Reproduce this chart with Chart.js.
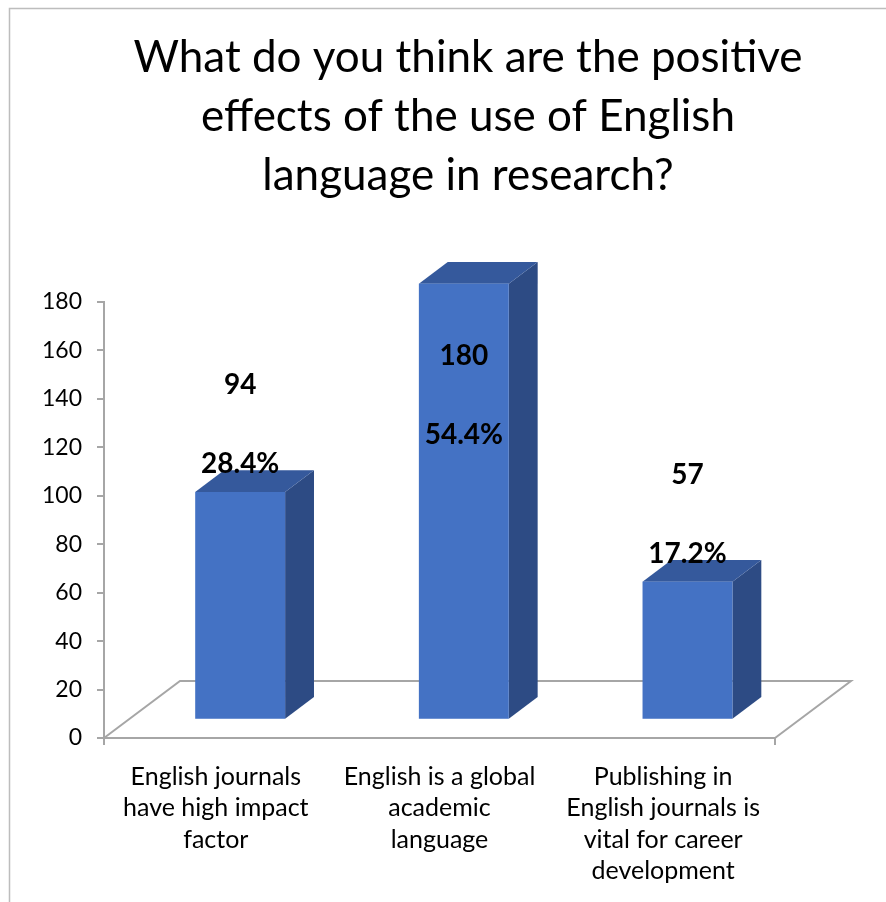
<!DOCTYPE html>
<html>
<head>
<meta charset="utf-8">
<script src="https://cdn.jsdelivr.net/npm/chart.js@4.4.1/dist/chart.umd.min.js"></script>
<style>
  html, body { margin: 0; padding: 0; background: #fff; }
  canvas { display: block; }
</style>
</head>
<body>
<canvas id="effectsChart" width="886" height="902"></canvas>
<script>
const titleLines = [
    'What do you think are the positive',
    'effects of the use of English',
    'language in research?'
];
const categories = [
    ['English journals', 'have high impact', 'factor'],
    ['English is a global', 'academic', 'language'],
    ['Publishing in', 'English journals is', 'vital for career', 'development']
];
const responses = [94, 180, 57];
const yMax = 180;
const yStep = 20;

const total = responses.reduce((a, b) => a + b, 0);
const percents = responses.map(v => (v / total * 100).toFixed(1) + '%');

// 3D look: floor depth offset and where the boxes sit inside it
const FLOOR_DX = 76, FLOOR_DY = -57;
const BAR_FRONT = 0.32, BAR_DEPTH = 0.38;
const LINE_GREY = '#a6a6a6';

const box3d = {
    id: 'box3d',
    beforeDraw(chart) {
        const ctx = chart.ctx;
        ctx.save();
        ctx.fillStyle = '#fff';
        ctx.fillRect(0, 0, chart.width, chart.height);
        // outer frame (left and top edges)
        ctx.strokeStyle = '#bdbdbd';
        ctx.lineWidth = 1.5;
        ctx.beginPath();
        ctx.moveTo(9.5, chart.height);
        ctx.lineTo(9.5, 8.5);
        ctx.lineTo(chart.width, 8.5);
        ctx.stroke();
        ctx.restore();
    },
    beforeDatasetsDraw(chart) {
        const { ctx, chartArea: a } = chart;
        ctx.save();
        ctx.strokeStyle = LINE_GREY;
        ctx.lineWidth = 2;
        ctx.beginPath();
        ctx.moveTo(a.left, a.bottom);
        ctx.lineTo(a.left + FLOOR_DX, a.bottom + FLOOR_DY);
        ctx.lineTo(a.right + FLOOR_DX, a.bottom + FLOOR_DY);
        ctx.lineTo(a.right, a.bottom);
        ctx.stroke();
        // end ticks below the front edge
        ctx.beginPath();
        ctx.moveTo(a.left, a.bottom);
        ctx.lineTo(a.left, a.bottom + 7);
        ctx.moveTo(a.right, a.bottom);
        ctx.lineTo(a.right, a.bottom + 7);
        ctx.moveTo(a.left - 7, a.bottom);
        ctx.lineTo(a.left, a.bottom);
        ctx.stroke();
        ctx.restore();
    },
    afterDatasetsDraw(chart) {
        const { ctx, chartArea: a } = chart;
        const meta = chart.getDatasetMeta(0);
        const fx = FLOOR_DX * BAR_FRONT, fy = FLOOR_DY * BAR_FRONT;
        const dx = FLOOR_DX * BAR_DEPTH, dy = FLOOR_DY * BAR_DEPTH;
        ctx.save();
        meta.data.forEach((bar, i) => {
            const x0 = bar.x - bar.width / 2 + fx;
            const x1 = bar.x + bar.width / 2 + fx;
            const top = bar.y + fy;
            const bottom = bar.base + fy;

            // side face
            ctx.fillStyle = '#2d4b84';
            ctx.beginPath();
            ctx.moveTo(x1, top);
            ctx.lineTo(x1 + dx, top + dy);
            ctx.lineTo(x1 + dx, bottom + dy);
            ctx.lineTo(x1, bottom);
            ctx.closePath();
            ctx.fill();

            // top face
            ctx.fillStyle = '#35599c';
            ctx.beginPath();
            ctx.moveTo(x0, top);
            ctx.lineTo(x0 + dx, top + dy);
            ctx.lineTo(x1 + dx, top + dy);
            ctx.lineTo(x1, top);
            ctx.closePath();
            ctx.fill();

            // front face
            ctx.fillStyle = '#4472c4';
            ctx.fillRect(x0, top, x1 - x0, bottom - top);

            // value and share labels
            const cx = (x0 + x1) / 2;
            let pctY = top - 28;
            let valY = pctY - 79;
            const minY = a.top + 54;
            if (valY < minY) {
                pctY += minY - valY;
                valY = minY;
            }
            ctx.fillStyle = '#000';
            ctx.font = 'bold 28px Lato';
            ctx.textAlign = 'center';
            ctx.textBaseline = 'middle';
            ctx.fillText(String(responses[i]), cx, valY);
            ctx.fillText(percents[i], cx, pctY);
        });
        ctx.restore();
    }
};

new Chart(document.getElementById('effectsChart'), {
    type: 'bar',
    data: {
        labels: categories,
        datasets: [{
            data: responses,
            backgroundColor: 'rgba(0,0,0,0)',
            borderWidth: 0,
            categoryPercentage: 1,
            barPercentage: 0.402
        }]
    },
    options: {
        responsive: false,
        animation: false,
        // uneven side padding keeps the title a little right of the canvas centre
        layout: { padding: { left: 30, right: -20, top: 0, bottom: 0 } },
        plugins: {
            legend: { display: false },
            tooltip: { enabled: false },
            title: {
                display: true,
                text: titleLines,
                color: '#000',
                font: { family: 'Lato', size: 44, weight: 'normal', lineHeight: 1.34 },
                padding: { top: 28, bottom: 97 }
            }
        },
        scales: {
            x: {
                grid: { display: false },
                border: { display: true, color: LINE_GREY, width: 2 },
                ticks: {
                    color: '#000',
                    padding: 15,
                    maxRotation: 0,
                    autoSkip: false,
                    font: { family: 'Lato', size: 25, lineHeight: 1.26 }
                },
                afterFit(scale) { scale.height = 164; }
            },
            y: {
                min: 0,
                max: yMax,
                grid: { drawOnChartArea: false, color: LINE_GREY, lineWidth: 2, tickLength: 7 },
                border: { display: true, color: LINE_GREY, width: 2 },
                ticks: {
                    stepSize: yStep,
                    color: '#000',
                    padding: 15,
                    font: { family: 'Lato', size: 23 }
                },
                afterFit(scale) { scale.width = 74; }
            },
            // empty right-hand gutter so the plot stops short of the edge
            gutter: {
                type: 'linear',
                position: 'right',
                grid: { display: false },
                border: { display: false },
                ticks: { display: false },
                afterFit(scale) { scale.width = 131; }
            }
        }
    },
    plugins: [box3d]
});
</script>
</body>
</html>
